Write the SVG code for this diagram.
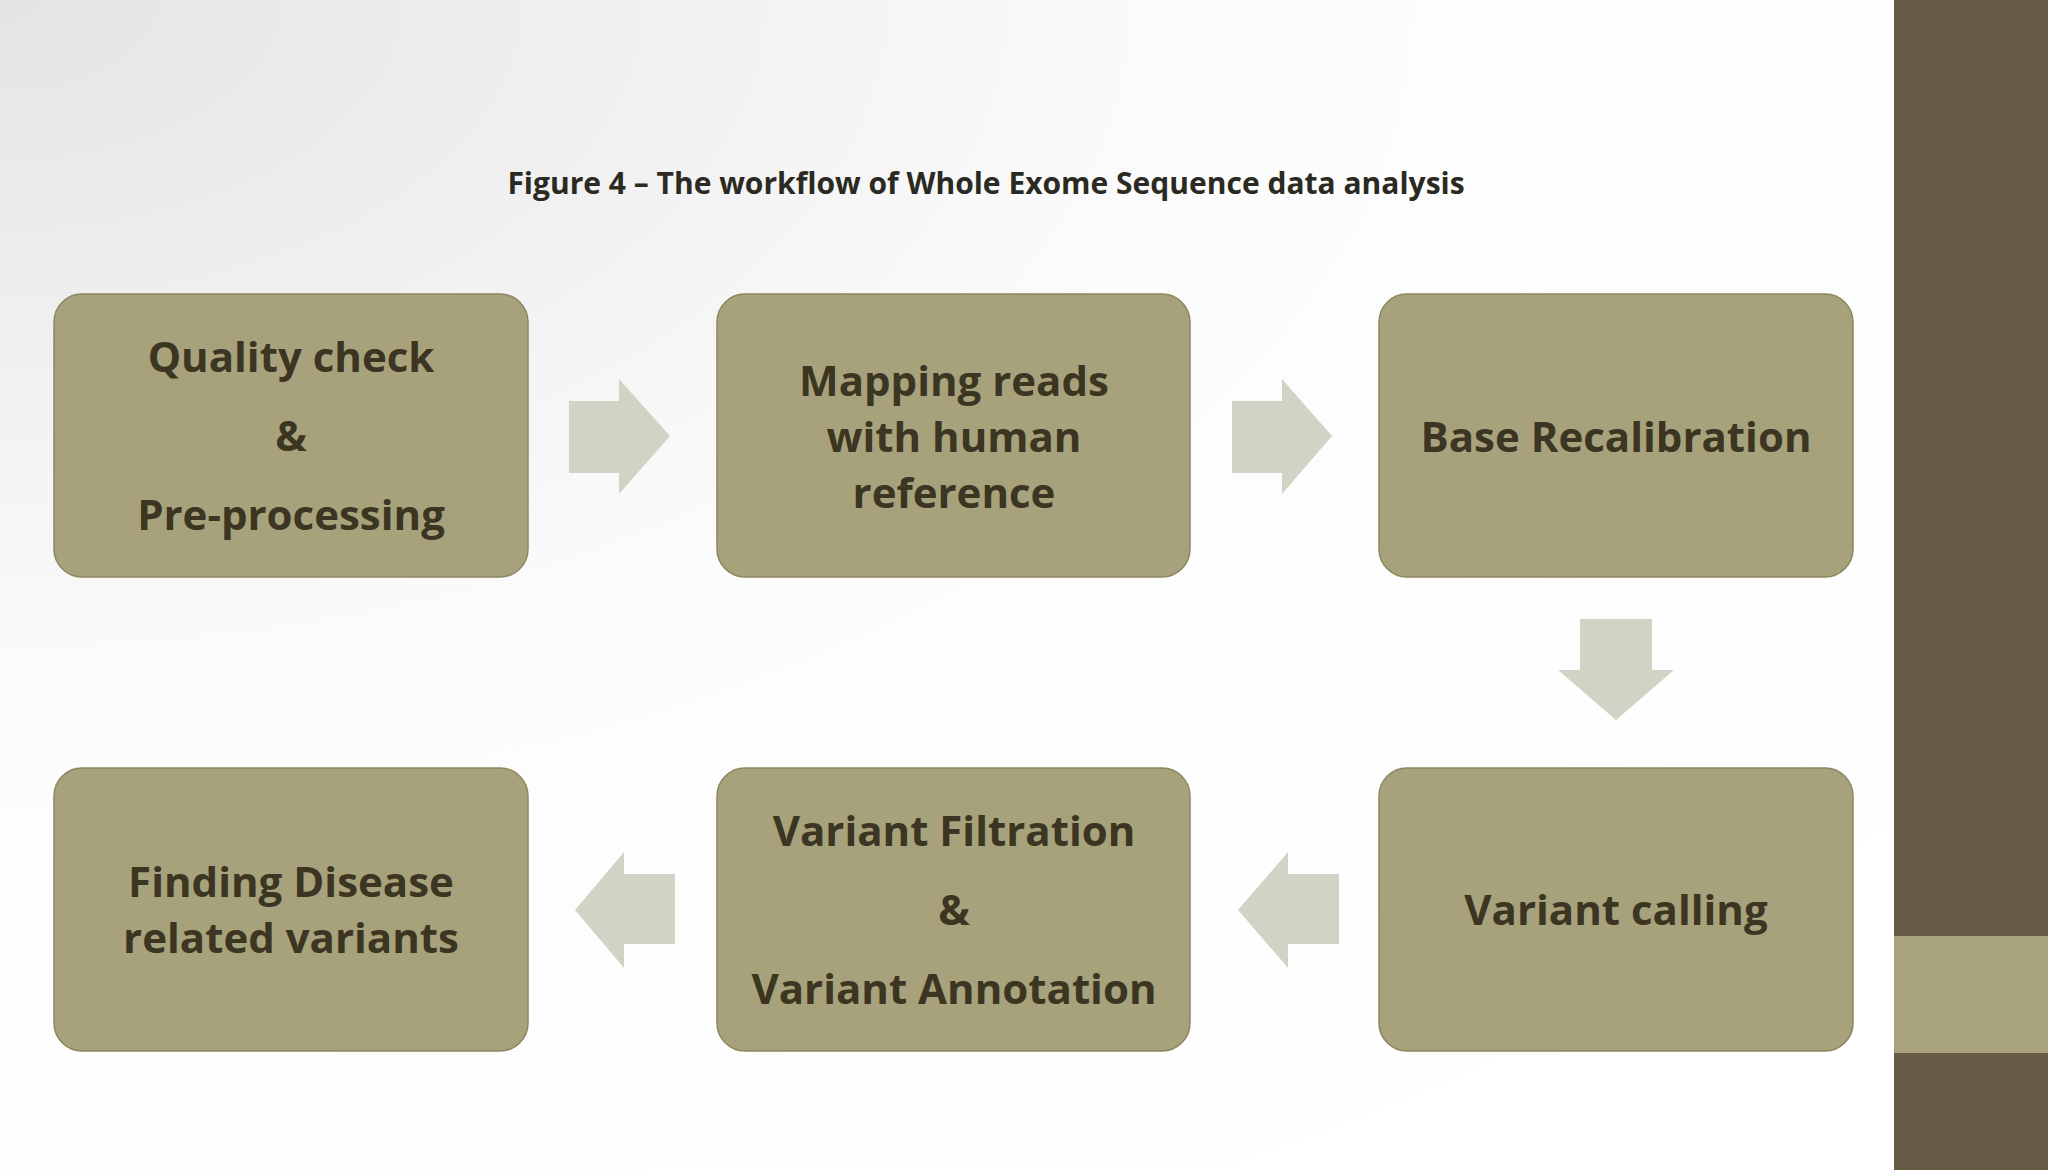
<svg xmlns="http://www.w3.org/2000/svg" width="2048" height="1170" viewBox="0 0 2048 1170">
<defs>
<radialGradient id="bg" cx="0" cy="0" r="1.2" gradientUnits="objectBoundingBox">
<stop offset="0" stop-color="#e4e4e4"/><stop offset="0.5" stop-color="#fcfcfc"/><stop offset="1" stop-color="#ffffff"/>
</radialGradient>
<style>
.box{fill:#a7a27c;stroke:#8c875f;stroke-width:1.5}
.arr{fill:#d3d3c5}
.t{font-family:"Open Sans","Liberation Sans",sans-serif;font-weight:bold;font-size:42px;fill:#3b3522;text-anchor:middle;dominant-baseline:central}
</style>
</defs>
<rect width="2048" height="1170" fill="url(#bg)"/>
<rect x="1894" y="0" width="154" height="1170" fill="#665b45"/>
<rect x="1894" y="936" width="154" height="117" fill="#a8a37c"/>
<text x="986" y="182" style="font-family:'Open Sans','Liberation Sans',sans-serif;font-weight:bold;font-size:30px;fill:#2b2a22;text-anchor:middle;dominant-baseline:central">Figure 4 – The workflow of Whole Exome Sequence data analysis</text>
<g id="connectors">
<polygon class="arr" points="569,401 619,401 619,379 670,436 619,494 619,473 569,473"/>
<polygon class="arr" points="1232,401 1282,401 1282,379 1332,436 1282,494 1282,473 1232,473"/>
<polygon class="arr" points="1580,619 1652,619 1652,670 1674,670 1616,720 1558,670 1580,670"/>
<polygon class="arr" points="1339,874 1288,874 1288,852 1238,910 1288,968 1288,944 1339,944"/>
<polygon class="arr" points="675,874 624,874 624,852 575,910 624,968 624,944 675,944"/>
</g>
<g id="n1"><rect class="box" x="54" y="294" width="474" height="283" rx="28"/>
<text class="t" x="291" y="355">Quality check</text><text class="t" x="291" y="434">&amp;</text><text class="t" x="291" y="513">Pre-processing</text></g>
<g id="n2"><rect class="box" x="717" y="294" width="473" height="283" rx="28"/>
<text class="t" x="954" y="379">Mapping reads</text><text class="t" x="954" y="435">with human</text><text class="t" x="954" y="491">reference</text></g>
<g id="n3"><rect class="box" x="1379" y="294" width="474" height="283" rx="28"/>
<text class="t" x="1616" y="435">Base Recalibration</text></g>
<g id="n4"><rect class="box" x="1379" y="768" width="474" height="283" rx="28"/>
<text class="t" x="1616" y="908">Variant calling</text></g>
<g id="n5"><rect class="box" x="717" y="768" width="473" height="283" rx="28"/>
<text class="t" x="954" y="829">Variant Filtration</text><text class="t" x="954" y="908">&amp;</text><text class="t" x="954" y="987">Variant Annotation</text></g>
<g id="n6"><rect class="box" x="54" y="768" width="474" height="283" rx="28"/>
<text class="t" x="291" y="880">Finding Disease</text><text class="t" x="291" y="936">related variants</text></g>
</svg>
